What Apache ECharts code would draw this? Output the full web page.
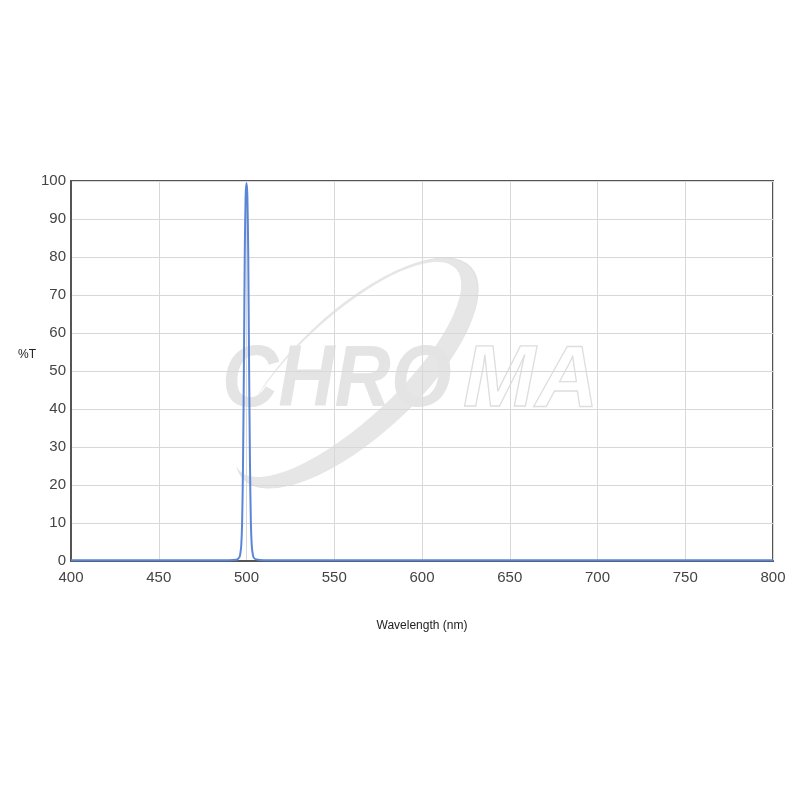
<!DOCTYPE html>
<html>
<head>
<meta charset="utf-8">
<script src="https://cdn.jsdelivr.net/npm/echarts@6/dist/echarts.min.js"></script>
<style>html,body{margin:0;padding:0;background:#fff}#c{width:800px;height:800px}</style>
</head>
<body>
<div id="c"></div>
<script>
var wavelengths = [400, 450, 490, 494, 495, 496, 496.5, 497, 497.5, 498, 498.5, 499, 499.5, 500, 500.5, 501, 501.5, 502, 502.5, 503, 503.5, 504, 505, 510, 550, 600, 650, 700, 750, 800];
var transmission = [0.2, 0.2, 0.2, 0.3, 0.5, 1, 2, 4, 10, 25, 50, 80, 96, 99.5, 96, 80, 50, 25, 10, 4, 2, 1, 0.5, 0.2, 0.2, 0.2, 0.2, 0.2, 0.2, 0.2];
var xTicks = [400, 450, 500, 550, 600, 650, 700, 750, 800];
var yTicks = [0, 10, 20, 30, 40, 50, 60, 70, 80, 90, 100];

var chart = echarts.init(document.getElementById('c'));
var data = wavelengths.map(function(w, i){ return [w, transmission[i]]; });
var wmFont = 'italic bold 88px "Liberation Sans", Arial, sans-serif';
chart.setOption({
  backgroundColor: '#fff',
  animation: false,
  grid: { left: 71, right: 27, top: 181, bottom: 239, show: true, borderColor: '#555', borderWidth: 2, backgroundColor: 'transparent' },
  graphic: [
    { type: 'group', z: -10, children: [
      { type: 'circle', shape: { cx: 0, cy: 0, r: 100 }, x: 357, y: 373, scaleX: 1.55, scaleY: 0.62, rotation: 0.75,
        style: { fill: '#e6e6e6', stroke: '#e2e2e2', lineWidth: 1, strokeNoScale: true }, z: -10 },
      { type: 'circle', shape: { cx: 0, cy: 0, r: 100 }, x: 347.5, y: 369.5, scaleX: 1.48, scaleY: 0.51, rotation: 0.75,
        style: { fill: '#fff' }, z: -9 },
      { type: 'text', x: 222, y: 426, scaleX: 0.886, style: { text: 'CHRO', font: wmFont, fill: '#e4e4e4', textVerticalAlign: 'bottom' }, z: -8 },
      { type: 'text', x: 463, y: 426, scaleX: 0.99, style: { text: 'MA', font: wmFont, fill: 'rgba(255,255,255,0)', stroke: '#dedede', lineWidth: 1.3, textVerticalAlign: 'bottom' }, z: -8 }
    ]},
    { type: 'text', x: 36, y: 355, style: { text: '%T', font: '12px "Liberation Sans", Arial, sans-serif', fill: '#222', textAlign: 'right', textVerticalAlign: 'middle' } }
  ],
  xAxis: {
    type: 'value', min: 400, max: 800, interval: 50,
    name: 'Wavelength (nm)', nameLocation: 'middle', nameGap: 59,
    nameTextStyle: { fontSize: 12, color: '#222', fontFamily: 'Liberation Sans, Arial, sans-serif' },
    axisLine: { show: true, lineStyle: { color: '#555', width: 2 } },
    axisTick: { show: false },
    axisLabel: { fontSize: 15, color: '#444', margin: 9, fontFamily: 'Liberation Sans, Arial, sans-serif',
      formatter: function(v){ return xTicks.indexOf(v) >= 0 ? String(v) : ''; } },
    splitLine: { show: true, lineStyle: { color: '#d8d8d8', width: 1 } }
  },
  yAxis: {
    type: 'value', min: 0, max: 100, interval: 10,
    axisLine: { show: true, lineStyle: { color: '#555', width: 2 } },
    axisTick: { show: false },
    axisLabel: { fontSize: 15, color: '#444', margin: 5, fontFamily: 'Liberation Sans, Arial, sans-serif',
      formatter: function(v){ return yTicks.indexOf(v) >= 0 ? String(v) : ''; } },
    splitLine: { show: true, lineStyle: { color: '#d8d8d8', width: 1 } }
  },
  series: [{
    type: 'line', data: data, showSymbol: false, smooth: 0.3,
    lineStyle: { color: '#5b86d8', width: 2 },
    z: 5
  }]
});
</script>
</body>
</html>
